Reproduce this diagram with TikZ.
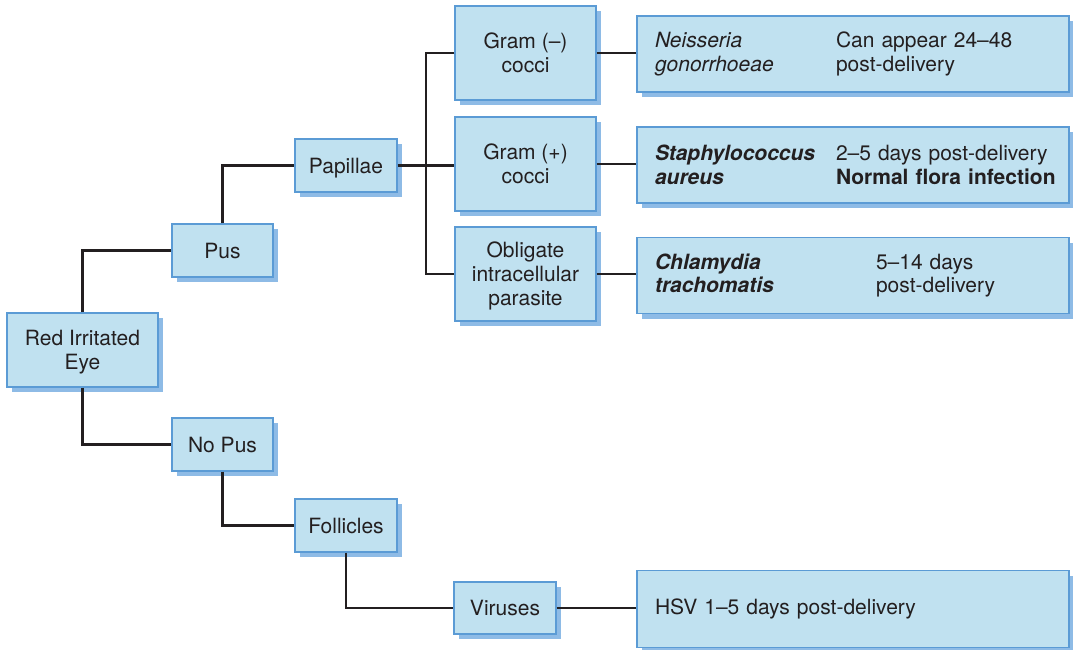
\documentclass[tikz,border=0pt]{standalone}
\usepackage{fontspec}
\setmainfont{TeX Gyre Heros}

\definecolor{fond}{HTML}{C0E1F0}
\definecolor{bord}{HTML}{5B9BD5}
\definecolor{ombre}{HTML}{8EBBE6}
\definecolor{trait}{HTML}{231F20}

\tikzset{
  boite/.style={draw=bord, line width=1.4pt, fill=fond, text=trait,
    align=center, inner sep=0pt,
    preaction={fill=ombre, draw=none, transform canvas={shift={(5pt,-5pt)}}},
    font=\fontsize{21}{24}\selectfont},
  petite/.style={boite, minimum width=101pt, minimum height=53pt, text depth=0pt},
  moyenne/.style={boite, minimum width=141pt, minimum height=94pt, text depth=0pt},
  grande/.style={boite, minimum width=432pt, minimum height=76pt,
    text width=396pt, align=left},
  lien/.style={trait, line width=2.6pt}
}

\begin{document}
\begin{tikzpicture}[x=1pt, y=-1pt]
  \useasboundingbox (0,0) rectangle (1073,649);

  % Colonne de gauche
  \node[boite, minimum width=151pt, minimum height=74pt, text depth=0pt] (oeil) at (82.5,350) {Red Irritated\\Eye};
  \node[petite] (pus) at (222.5,250.5) {Pus};
  \node[petite] (nopus) at (222.5,444.5) {No Pus};
  \node[petite, minimum width=102pt] (papilles) at (346,165.5) {Papillae};
  \node[petite, minimum width=102pt] (follicules) at (346,525.5) {Follicles};

  % Germes
  \node[moyenne] (gramneg) at (525.5,53) {Gram (–)\\cocci};
  \node[moyenne] (grampos) at (525.5,164) {Gram (+)\\cocci};
  \node[moyenne] (obligat) at (525.5,274) {Obligate\\intracellular\\parasite};
  \node[petite, minimum width=102pt, minimum height=52pt] (virus) at (505,608) {Viruses};

  % Boites de droite
  \node[grande] (neisseria) at (853,54) {%
    \mbox{\makebox[181pt][l]{\itshape Neisseria}Can appear 24–48}\\
    \mbox{\makebox[181pt][l]{\itshape gonorrhoeae}post-delivery}};
  \node[grande] (staph) at (853,165) {%
    \mbox{\makebox[181pt][l]{\bfseries\itshape Staphylococcus}2–5 days post-delivery}\\
    \mbox{\makebox[181pt][l]{\bfseries\itshape aureus}\textbf{Normal flora infection}}};
  \node[grande] (chlamydia) at (853,275.5) {%
    \mbox{\makebox[221pt][l]{\bfseries\itshape Chlamydia}5–14 days}\\
    \mbox{\makebox[221pt][l]{\bfseries\itshape trachomatis}post-delivery}};
  \node[grande, minimum height=77pt] (hsv) at (853,609) {HSV 1–5 days post-delivery};

  % Liaisons
  \coordinate (tronc) at (426,0);
  \draw[lien] (oeil.north) |- (pus.west);
  \draw[lien] (oeil.south) |- (nopus.west);
  \draw[lien] (pus.north) |- (papilles.west);
  \draw[lien] (nopus.south) |- (follicules.west);
  \draw[lien] (follicules.south) |- (virus.west);
  \draw[lien] (papilles.east) -- (papilles.east -| grampos.west);
  \draw[lien] (gramneg.west) -| (tronc |- obligat.west) -- (obligat.west);
  \draw[lien] (gramneg.east) -- (gramneg.east -| neisseria.west);
  \draw[lien] (grampos.east) -- (grampos.east -| staph.west);
  \draw[lien] (obligat.east) -- (obligat.east -| chlamydia.west);
  \draw[lien] (virus.east) -- (virus.east -| hsv.west);
\end{tikzpicture}
\end{document}
